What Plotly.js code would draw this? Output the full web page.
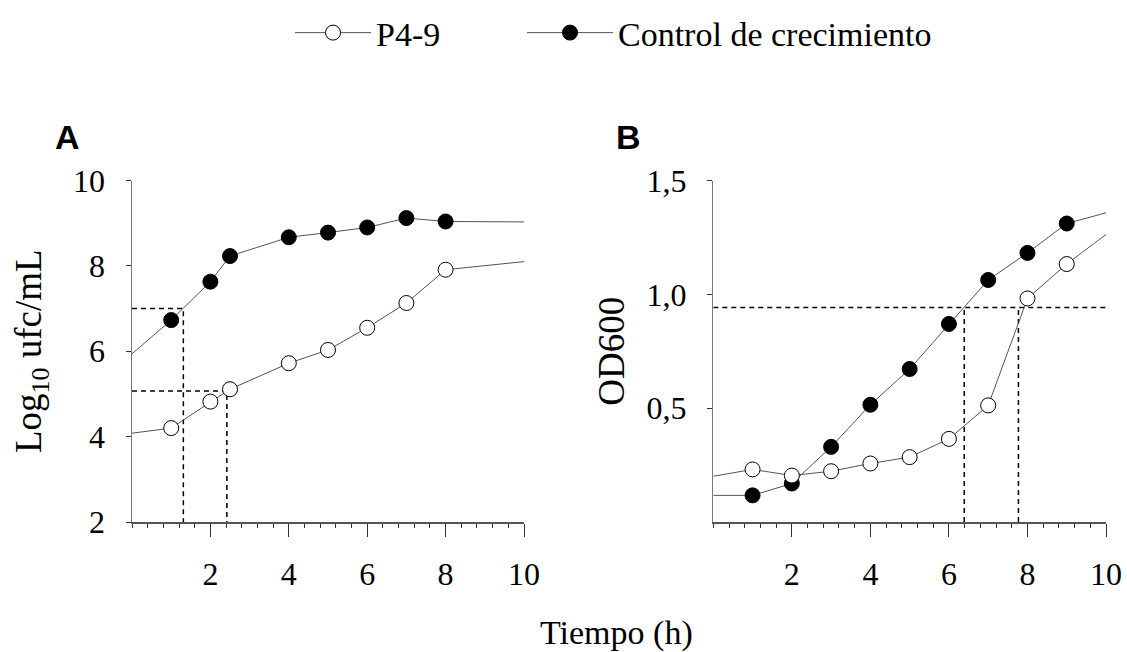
<!DOCTYPE html>
<html>
<head>
<meta charset="utf-8">
<script src="https://cdn.plot.ly/plotly-3.0.1.min.js"></script>
<style>html,body{margin:0;padding:0;background:#fff;}#chart{width:1127px;height:652px;}</style>
</head>
<body>
<div id="chart"></div>
<script>
// ---- Data ----
var seriesNames = ["P4-9", "Control de crecimiento"];
var panelLabels = ["A", "B"];
var xTickVals = [2, 4, 6, 8, 10];

// Panel A: Log10 ufc/mL vs Tiempo (h)
var timeA = [1, 2, 2.5, 4, 5, 6, 7, 8];
var p49A = [4.20, 4.82, 5.11, 5.72, 6.03, 6.55, 7.13, 7.91];
var ctrlA = [6.73, 7.63, 8.23, 8.67, 8.78, 8.90, 9.12, 9.04];
var extX = [0, 10];
var p49A_ext = [4.08, 8.10];
var ctrlA_ext = [5.94, 9.03];
var guideA_x = [1.31, 2.42];
var guideA_y = [7.0, 5.07];
var yTickValsA = [2, 4, 6, 8, 10];

// Panel B: OD600 vs Tiempo (h)
var timeB = [1, 2, 3, 4, 5, 6, 7, 8, 9];
var p49B = [0.231, 0.204, 0.223, 0.257, 0.285, 0.365, 0.512, 0.982, 1.133];
var ctrlB = [0.117, 0.169, 0.330, 0.515, 0.672, 0.870, 1.063, 1.182, 1.311];
var p49B_ext = [0.201, 1.263];
var ctrlB_ext = [0.117, 1.358];
var guideB_x = [6.39, 7.77];
var guideB_y = 0.942;
var yTickValsB = [0.5, 1.0, 1.5];
var yTickTextB = ["0,5", "1,0", "1,5"];

// ---- Styling ----
var SERIF = "Liberation Serif";
var SANS = "Liberation Sans";
var LINE_COL = "#555";
var MS = 15;

function extTrace(xs, ys, ext, xa, ya) {
  var n = xs.length;
  return {
    x: [extX[0], xs[0], null, xs[n - 1], extX[1]],
    y: [ext[0], ys[0], null, ys[n - 1], ext[1]],
    mode: "lines", xaxis: xa, yaxis: ya, showlegend: false, hoverinfo: "skip",
    line: {color: LINE_COL, width: 1}
  };
}
function seriesTrace(xs, ys, filled, name, xa, ya, showlegend, legendId) {
  return {
    x: xs, y: ys, name: name, mode: "lines+markers", xaxis: xa, yaxis: ya,
    showlegend: showlegend, legend: legendId,
    line: {color: LINE_COL, width: 1},
    marker: {symbol: "circle", size: MS, color: filled ? "#000" : "#fff", line: {color: "#000", width: 1}}
  };
}
var dashStyle = {color: "#000", width: 1.5, dash: "5px,4px"};

var traces = [];
for (var i = 0; i < guideA_x.length; i++) {
  traces.push({x: [0, guideA_x[i], guideA_x[i]], y: [guideA_y[i], guideA_y[i], yTickValsA[0]],
    mode: "lines", xaxis: "x", yaxis: "y", showlegend: false, hoverinfo: "skip", line: dashStyle});
}
traces.push({x: [0, extX[1]], y: [guideB_y, guideB_y], mode: "lines", xaxis: "x2", yaxis: "y2",
  showlegend: false, hoverinfo: "skip", line: dashStyle});
for (var j = 0; j < guideB_x.length; j++) {
  traces.push({x: [guideB_x[j], guideB_x[j]], y: [0, guideB_y], mode: "lines", xaxis: "x2", yaxis: "y2",
    showlegend: false, hoverinfo: "skip", line: dashStyle});
}
traces.push(extTrace(timeA, ctrlA, ctrlA_ext, "x", "y"));
traces.push(extTrace(timeA, p49A, p49A_ext, "x", "y"));
traces.push(extTrace(timeB, ctrlB, ctrlB_ext, "x2", "y2"));
traces.push(extTrace(timeB, p49B, p49B_ext, "x2", "y2"));
traces.push(seriesTrace(timeA, ctrlA, true, seriesNames[1], "x", "y", true, "legend2"));
traces.push(seriesTrace(timeB, ctrlB, true, seriesNames[1], "x2", "y2", false, "legend2"));
traces.push(seriesTrace(timeA, p49A, false, seriesNames[0], "x", "y", true, "legend"));
traces.push(seriesTrace(timeB, p49B, false, seriesNames[0], "x2", "y2", false, "legend"));

function xAxis(domain, anchor) {
  return {
    domain: domain, anchor: anchor, range: [0, 10], tickvals: xTickVals,
    ticks: "outside", ticklen: 13, tickwidth: 1, tickcolor: "#333",
    showline: true, linecolor: "#555", linewidth: 1.5, showgrid: false, zeroline: false,
    minor: {dtick: 0.4, tick0: 0, ticks: "outside", ticklen: 4, tickwidth: 1, tickcolor: "#333", showgrid: false},
    tickfont: {family: SERIF, size: 32, color: "#000"}, ticklabelstandoff: 10, fixedrange: true
  };
}
function yAxis(domain, anchor, range, tv, tt) {
  var a = {
    domain: domain, anchor: anchor, range: range, tickvals: tv,
    ticks: "outside", ticklen: 5, tickwidth: 1, tickcolor: "#333",
    showline: true, linecolor: "#777", linewidth: 1.5, showgrid: false, zeroline: false,
    tickfont: {family: SERIF, size: 32, color: "#000"}, ticklabelstandoff: 14, fixedrange: true
  };
  if (tt) a.ticktext = tt;
  return a;
}
function legendBox(xpx, iw) {
  return {
    orientation: "h", x: xpx / 1127, xanchor: "left", y: 1 - 33 / 652, yanchor: "middle",
    font: {family: SERIF, size: 34, color: "#000"}, itemsizing: "trace",
    bgcolor: "rgba(0,0,0,0)", itemwidth: iw
  };
}

var yDom = [1 - 522 / 652, 1 - 180.5 / 652];
var layout = {
  width: 1127, height: 652,
  margin: {l: 0, r: 0, t: 0, b: 0},
  paper_bgcolor: "#fff", plot_bgcolor: "#fff",
  font: {family: SERIF, color: "#000"},
  xaxis: xAxis([132 / 1127, 524 / 1127], "y"),
  yaxis: Object.assign(yAxis(yDom, "x", [2, 10], yTickValsA), {
    title: {text: "Log<sub>10</sub> ufc/mL", font: {family: SERIF, size: 37, color: "#000"}, standoff: 20}
  }),
  xaxis2: xAxis([713.3 / 1127, 1106 / 1127], "y2"),
  yaxis2: Object.assign(yAxis(yDom, "x2", [0, 1.5], yTickValsB, yTickTextB), {
    title: {text: "OD600", font: {family: SERIF, size: 37, color: "#000"}, standoff: 10}
  }),
  showlegend: true,
  legend: legendBox(290, 76),
  legend2: legendBox(522, 86),
  annotations: [
    {text: "<b>" + panelLabels[0] + "</b>", xref: "paper", yref: "paper", x: 67 / 1127, y: 1 - 137 / 652,
      xanchor: "center", yanchor: "middle", showarrow: false, font: {family: SANS, size: 34, color: "#000"}},
    {text: "<b>" + panelLabels[1] + "</b>", xref: "paper", yref: "paper", x: 628 / 1127, y: 1 - 137 / 652,
      xanchor: "center", yanchor: "middle", showarrow: false, font: {family: SANS, size: 34, color: "#000"}},
    {text: "Tiempo (h)", xref: "paper", yref: "paper", x: 616 / 1127, y: 1 - 633 / 652,
      xanchor: "center", yanchor: "middle", showarrow: false, font: {family: SERIF, size: 34, color: "#000"}}
  ]
};

Plotly.newPlot("chart", traces, layout, {staticPlot: true, displayModeBar: false});
</script>
</body>
</html>
